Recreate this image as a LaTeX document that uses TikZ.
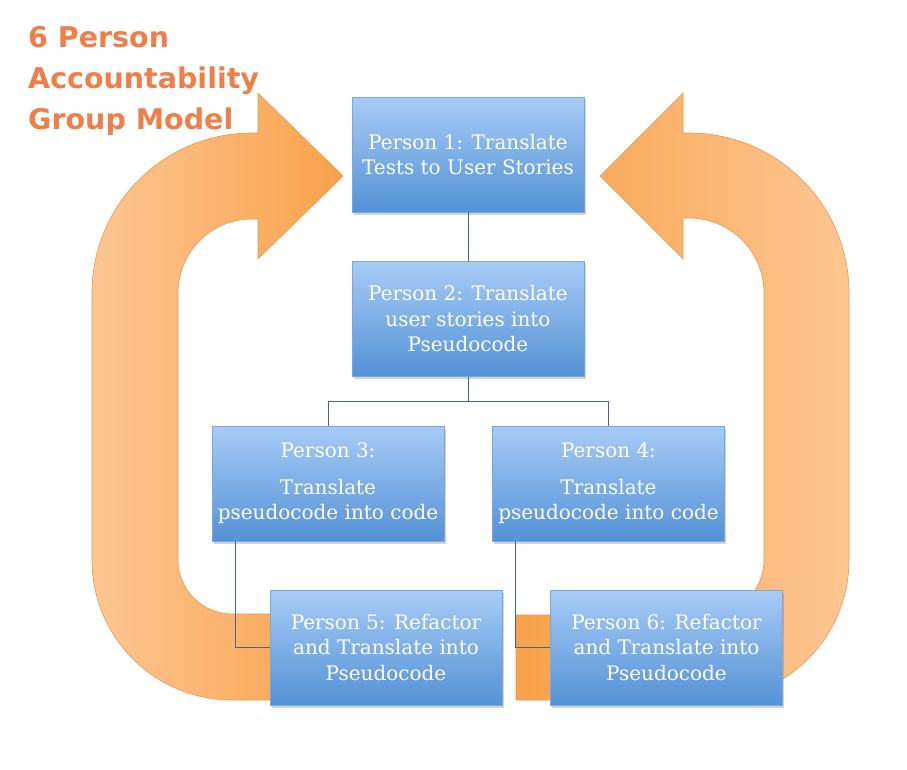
\documentclass[tikz,border=0pt]{standalone}
\usepackage{fontspec}
\usetikzlibrary{calc,shadows}
\newfontfamily\boxfont{DejaVu Serif}
\newfontfamily\headfont{DejaVu Sans}
\definecolor{box_top}{RGB}{168, 203, 246}
\definecolor{box_bot}{RGB}{84, 146, 214}
\definecolor{box_edge}{RGB}{120, 168, 224}
\definecolor{link_blue}{RGB}{70, 100, 140}
\definecolor{loop_light}{RGB}{253, 198, 146}
\definecolor{loop_dark}{RGB}{249, 162, 75}
\definecolor{loop_edge}{RGB}{238, 150, 80}
\definecolor{head_orange}{RGB}{240, 126, 72}
\tikzstyle{pn}=[rectangle,top color=box_top,bottom color=box_bot,draw=box_edge,
  line width=0.3pt,minimum width=232pt,minimum height=115pt,inner sep=0pt,
  align=center,text=white,font=\boxfont\fontsize{20}{25.5}\selectfont,
  drop shadow={shadow xshift=1.5pt,shadow yshift=-2.5pt,opacity=0.35}]
\tikzstyle{link}=[draw=link_blue,line width=0.9pt]
\tikzstyle{loopL}=[draw=loop_edge,line width=0.6pt,left color=loop_light,right color=loop_dark]
\tikzstyle{loopR}=[draw=loop_edge,line width=0.6pt,left color=loop_dark,right color=loop_light]
\tikzstyle{title}=[anchor=north west,inner sep=0pt,align=left,text=head_orange,
  font=\headfont\bfseries\fontsize{28.5}{41}\selectfont]
\tikzstyle{none}=[]

\begin{document}
\begin{tikzpicture}[x=1pt, y=1pt]
            \useasboundingbox (0, 0) rectangle (907, -769);
            % return arrows, behind everything
            \draw [style=loopL] (300, -700) -- (232, -700) arc (270:180:140) -- (92, -293)
                arc (180:90:160) -- (258, -133) -- (258, -93) -- (343, -176) -- (258, -259)
                -- (258, -219) -- (252, -219) arc (90:180:74) -- (178, -560)
                arc (180:270:54) -- (300, -614) -- cycle;
            \draw [style=loopR] (516, -700) -- (709, -700) arc (270:360:140) -- (849, -293)
                arc (0:90:160) -- (683, -133) -- (683, -93) -- (600, -176) -- (683, -259)
                -- (683, -218) -- (689, -218) arc (90:0:75) -- (764, -560)
                arc (0:-90:55) -- (516, -615) -- cycle;
            \node [style=title] (0) at (28, -26) {6 Person\\Accountability\\Group Model};
            \node [style=pn] (1) at (468, -154.5) {Person 1: Translate\\Tests to User Stories};
            \node [style=pn] (2) at (468, -319) {Person 2: Translate\\user stories into\\Pseudocode};
            \node [style=pn] (3) at (328, -483.5) {Person 3:\\[11pt]Translate\\pseudocode into code};
            \node [style=pn] (4) at (608.5, -483.5) {Person 4:\\[11pt]Translate\\pseudocode into code};
            \node [style=pn] (5) at (386, -647.5) {Person 5: Refactor\\and Translate into\\Pseudocode};
            \node [style=pn] (6) at (666.5, -647.5) {Person 6: Refactor\\and Translate into\\Pseudocode};
            \coordinate (fork) at ($(2.south)+(0, -25)$);
            \draw [style=link] (1) to (2);
            \draw [style=link] (2.south) to (fork) -| (3.north);
            \draw [style=link] (fork) -| (4.north);
            \draw [style=link] ($(3.south west)+(24, 0)$) |- (5.west);
            \draw [style=link] ($(4.south west)+(23, 0)$) |- (6.west);
    \end{tikzpicture}
\end{document}
